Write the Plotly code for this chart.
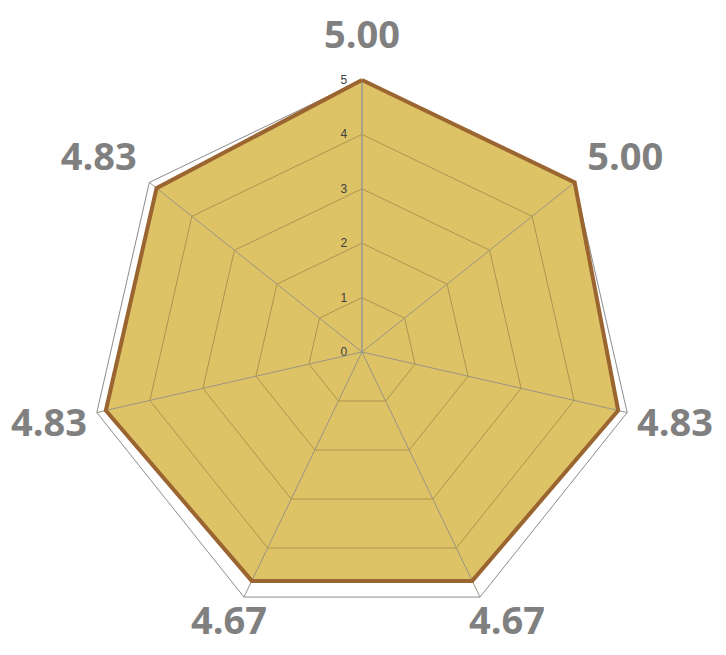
import plotly.graph_objects as go

categories = ["c1", "c2", "c3", "c4", "c5", "c6", "c7"]
values = [5.00, 5.00, 4.83, 4.67, 4.67, 4.83, 4.83]
tick_labels = ["5.00", "5.00", "4.83", "4.67", "4.67", "4.83", "4.83"]
radial_ticks = [0, 1, 2, 3, 4, 5]

W, H = 726, 655
CX, CY, R = 354, 344, 272          # plot centre / radius in pixels (layout)

# label groups: subplot -> (label indexes, tick pad, centre shift x, centre shift y, radius scale)
label_groups = {
    "polar":  ({3, 4}, 0, 6, 32, 0.854),
    "polar3": ({0}, 16, 0, 0, 1.0),
    "polar4": ({1, 6}, 8, 0, -8, 1.0),
    "polar5": ({2, 5}, 2, 0, 0, 1.0),
}

def domain(scale=1.0, dx=0, dy=0):
    r = R * scale
    cx = CX + dx
    cy = CY + dy
    return dict(x=[(cx - r) / W, (cx + r) / W], y=[(H - cy - r) / H, (H - cy + r) / H])

label_font = dict(family="Open Sans", size=38, color="#808080", weight="bold")

def ang(**kw):
    d = dict(type="category", categoryorder="array", categoryarray=categories,
             tickmode="array", tickvals=categories,
             direction="clockwise", rotation=90, tickfont=label_font)
    d.update(kw)
    return d

def label_polar(name):
    idx, pad, dx, dy, sc = label_groups[name]
    return dict(
        bgcolor="rgba(0,0,0,0)", gridshape="linear", domain=domain(sc, dx, dy),
        angularaxis=ang(ticktext=[t if i in idx else "" for i, t in enumerate(tick_labels)],
                        showline=False, showgrid=False,
                        ticks="outside" if pad else "", ticklen=max(pad, 1),
                        tickcolor="rgba(0,0,0,0)"),
        radialaxis=dict(range=[0, 5], visible=False),
    )

r_closed = values + [values[0]]
th_closed = categories + [categories[0]]

fig = go.Figure()
# fill
fig.add_trace(go.Scatterpolar(
    r=r_closed, theta=th_closed, mode="lines", fill="toself",
    fillcolor="#DEC266", line=dict(color="rgba(0,0,0,0)", width=0),
    hoverinfo="skip", subplot="polar2",
))
for sp in ("polar", "polar3", "polar4", "polar5", "polar6"):
    fig.add_trace(go.Scatterpolar(r=[], theta=[], mode="lines",
                                  hoverinfo="skip", subplot=sp))
# outline: same pixel scale, slightly larger range so the thick line is not clipped
fig.add_trace(go.Scatterpolar(
    r=r_closed, theta=th_closed, mode="lines", cliponaxis=False,
    line=dict(color="#9A6530", width=4),
    hoverinfo="skip", subplot="polar7",
))

polars = {name: label_polar(name) for name in label_groups}
polars["polar"]["bgcolor"] = "white"

fig.update_layout(
    width=W, height=H,
    margin=dict(l=0, r=0, t=0, b=0),
    paper_bgcolor="white",
    showlegend=False,
    polar=polars["polar"],
    polar2=dict(
        bgcolor="rgba(0,0,0,0)", gridshape="linear", domain=domain(),
        angularaxis=ang(ticktext=[""] * len(categories), showline=False,
                        showgrid=False, ticks=""),
        radialaxis=dict(range=[0, 5], visible=False),
    ),
    polar3=polars["polar3"],
    polar4=polars["polar4"],
    polar5=polars["polar5"],
    polar6=dict(
        bgcolor="rgba(0,0,0,0)",
        gridshape="linear",
        domain=domain(),
        angularaxis=ang(
            ticktext=[""] * len(categories),
            showline=True, linecolor="#8c8c8c", linewidth=1,
            showgrid=True, gridcolor="#9a9484", gridwidth=1,
            ticks="",
        ),
        radialaxis=dict(
            range=[0, 5],
            tickvals=radial_ticks,
            angle=90,
            tickangle=90,
            side="counterclockwise",
            showline=True, linecolor="#9a9a9a", linewidth=1,
            showgrid=True, gridcolor="#ad9550", gridwidth=1,
            ticks="outside", ticklen=10, tickcolor="rgba(0,0,0,0)",
            tickfont=dict(family="Liberation Sans", size=12, color="#404040"),
        ),
    ),
    polar7=dict(
        bgcolor="rgba(0,0,0,0)", gridshape="linear", domain=domain(1.04),
        angularaxis=ang(ticktext=[""] * len(categories), showline=False,
                        showgrid=False, ticks=""),
        radialaxis=dict(range=[0, 5 * 1.04], visible=False),
    ),
)
fig.write_html("out.html")
